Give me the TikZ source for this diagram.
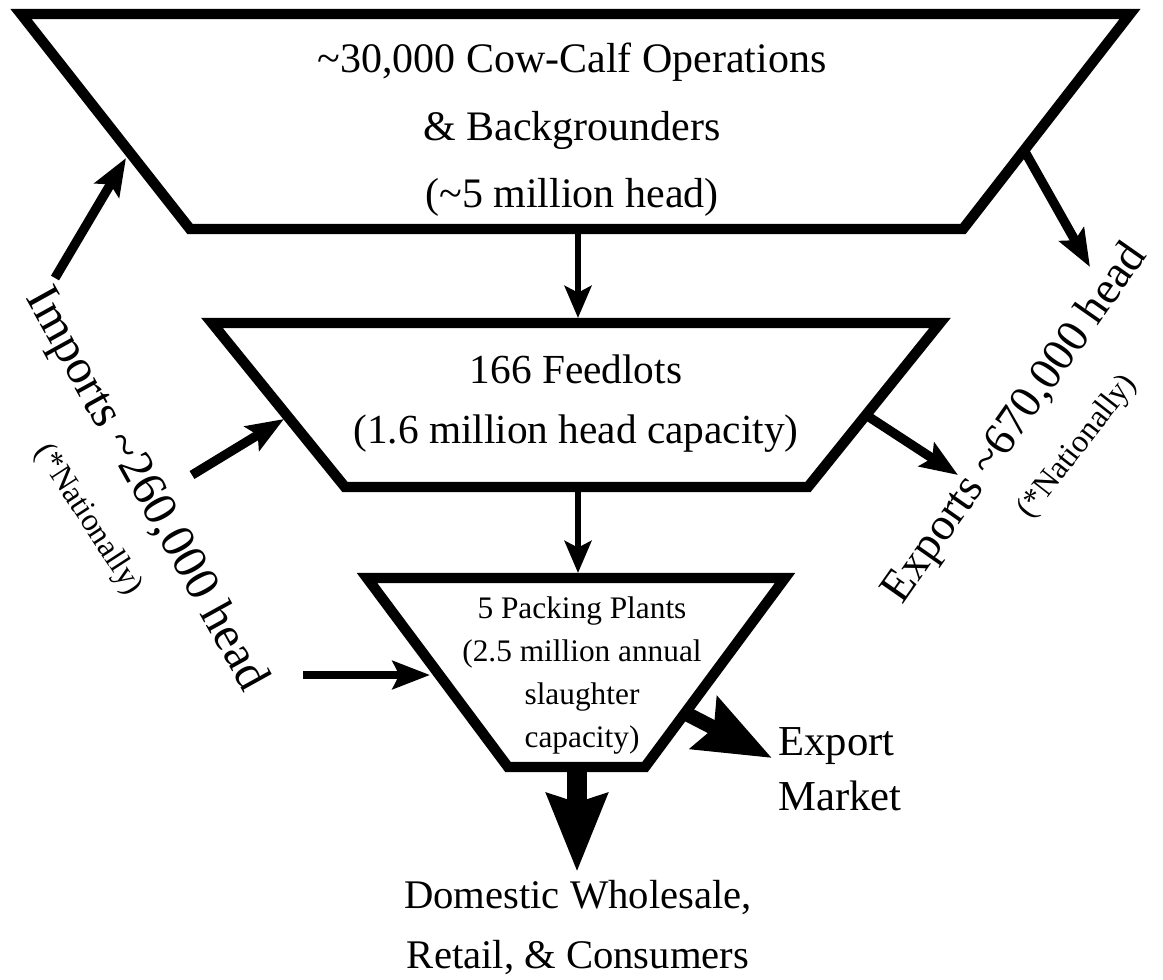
\documentclass[tikz,border=0pt]{standalone}
\usepackage{fontspec}
\setmainfont{Liberation Serif}
\usetikzlibrary{calc}
\usetikzlibrary{arrows.meta}
\tikzstyle{funnel} = [line width=7.8pt, line join=miter, draw=black]
\tikzstyle{tiertext} = [align=center, inner sep=0pt]
\tikzstyle{sidetext} = [inner sep=0pt, font=\fontsize{34.5}{42}\selectfont]
\tikzstyle{notetext} = [inner sep=0pt, font=\fontsize{24}{29}\selectfont]
\tikzstyle{thinarrow} = [line width=5pt, -{Stealth[length=24pt,width=20pt,inset=5pt]}]
\tikzstyle{sidearrow} = [line width=7pt, -{Stealth[length=28pt,width=21pt,inset=5pt]}]
\tikzstyle{bigarrow} = [line width=13pt, -{Stealth[length=57pt,width=43pt,inset=8pt]}]

\begin{document}
\begin{tikzpicture}[x=0.75pt, y=-0.75pt]
\useasboundingbox (0,0) rectangle (1163,979);

% funnel tiers
\coordinate (cc-tl) at (21,14);   \coordinate (cc-tr) at (1130,14);
\coordinate (cc-br) at (963,229); \coordinate (cc-bl) at (190,229);
\coordinate (fl-tl) at (212,323); \coordinate (fl-tr) at (940,323);
\coordinate (fl-br) at (808,487); \coordinate (fl-bl) at (345,487);
\coordinate (pk-tl) at (367,578); \coordinate (pk-tr) at (785,578);
\coordinate (pk-br) at (645,767); \coordinate (pk-bl) at (508,767);

\draw[funnel] (cc-tl) -- (cc-tr) -- (cc-br) -- (cc-bl) -- cycle;
\draw[funnel] (fl-tl) -- (fl-tr) -- (fl-br) -- (fl-bl) -- cycle;
\draw[funnel] (pk-tl) -- (pk-tr) -- (pk-br) -- (pk-bl) -- cycle;

\node[tiertext, font=\fontsize{31.5}{50.5}\selectfont] (cowcalf) at (572,130)
  {\textasciitilde30,000 Cow-Calf Operations\\\& Backgrounders\\(\textasciitilde5 million head)};
\node[tiertext, font=\fontsize{31}{45}\selectfont] (feedlots) at (576,404)
  {166 Feedlots\\(1.6 million head capacity)};
\node[tiertext, font=\fontsize{23.5}{32.25}\selectfont] (packers) at (582,675)
  {5 Packing Plants\\(2.5 million annual\\slaughter\\capacity)};
\node[tiertext, align=left, font=\fontsize{32}{41}\selectfont] (market) at (840,769)
  {Export\\Market};
\node[tiertext, font=\fontsize{30.5}{45}\selectfont] (domestic) at (578,928)
  {Domestic Wholesale,\\Retail, \& Consumers};

% side labels
\node[sidetext, rotate=-61, font=\fontsize{36.5}{42}\selectfont] (imports) at (145,490) {Imports \textasciitilde260,000 head};
\node[notetext, rotate=-57] (impnote) at (88,520) {(*Nationally)};
\node[sidetext, rotate=55] (exports) at (1016,424) {Exports \textasciitilde670,000 head};
\node[notetext, rotate=52] (expnote) at (1078,447) {(*Nationally)};

% arrow ends
\coordinate (imp1) at (55,278);     \coordinate (in-cc) at (126,158);
\coordinate (imp2) at (192,475);    \coordinate (in-fl) at (284,419);
\coordinate (imp3) at (303,675);    \coordinate (in-pk) at (430,675);
\coordinate (out-cc) at (1024,150); \coordinate (exp1) at (1090,267);
\coordinate (out-fl) at (866,415);  \coordinate (exp2) at (958,475);
\coordinate (out-pk) at (685,713);  \coordinate (mkt) at (772,758);
\coordinate (cc-b) at (578,229);    \coordinate (fl-t) at (578,318);
\coordinate (fl-b) at (578,487);    \coordinate (pk-t) at (578,573);
\coordinate (pk-b) at (577,767);    \coordinate (dom) at (577,872);

\draw[thinarrow] (cc-b) -- (fl-t);
\draw[thinarrow] (fl-b) -- (pk-t);
\draw[sidearrow] (imp1) -- (in-cc);
\draw[sidearrow] (imp2) -- (in-fl);
\draw[sidearrow, line width=5.5pt] (imp3) -- (in-pk);
\draw[sidearrow] (out-cc) -- (exp1);
\draw[sidearrow] (out-fl) -- (exp2);
\draw[bigarrow, line width=11pt] (out-pk) -- (mkt);
\draw[bigarrow, line width=15pt, -{Stealth[length=58pt,width=44pt,inset=6pt]}] (pk-b) -- (dom);
\end{tikzpicture}
\end{document}
